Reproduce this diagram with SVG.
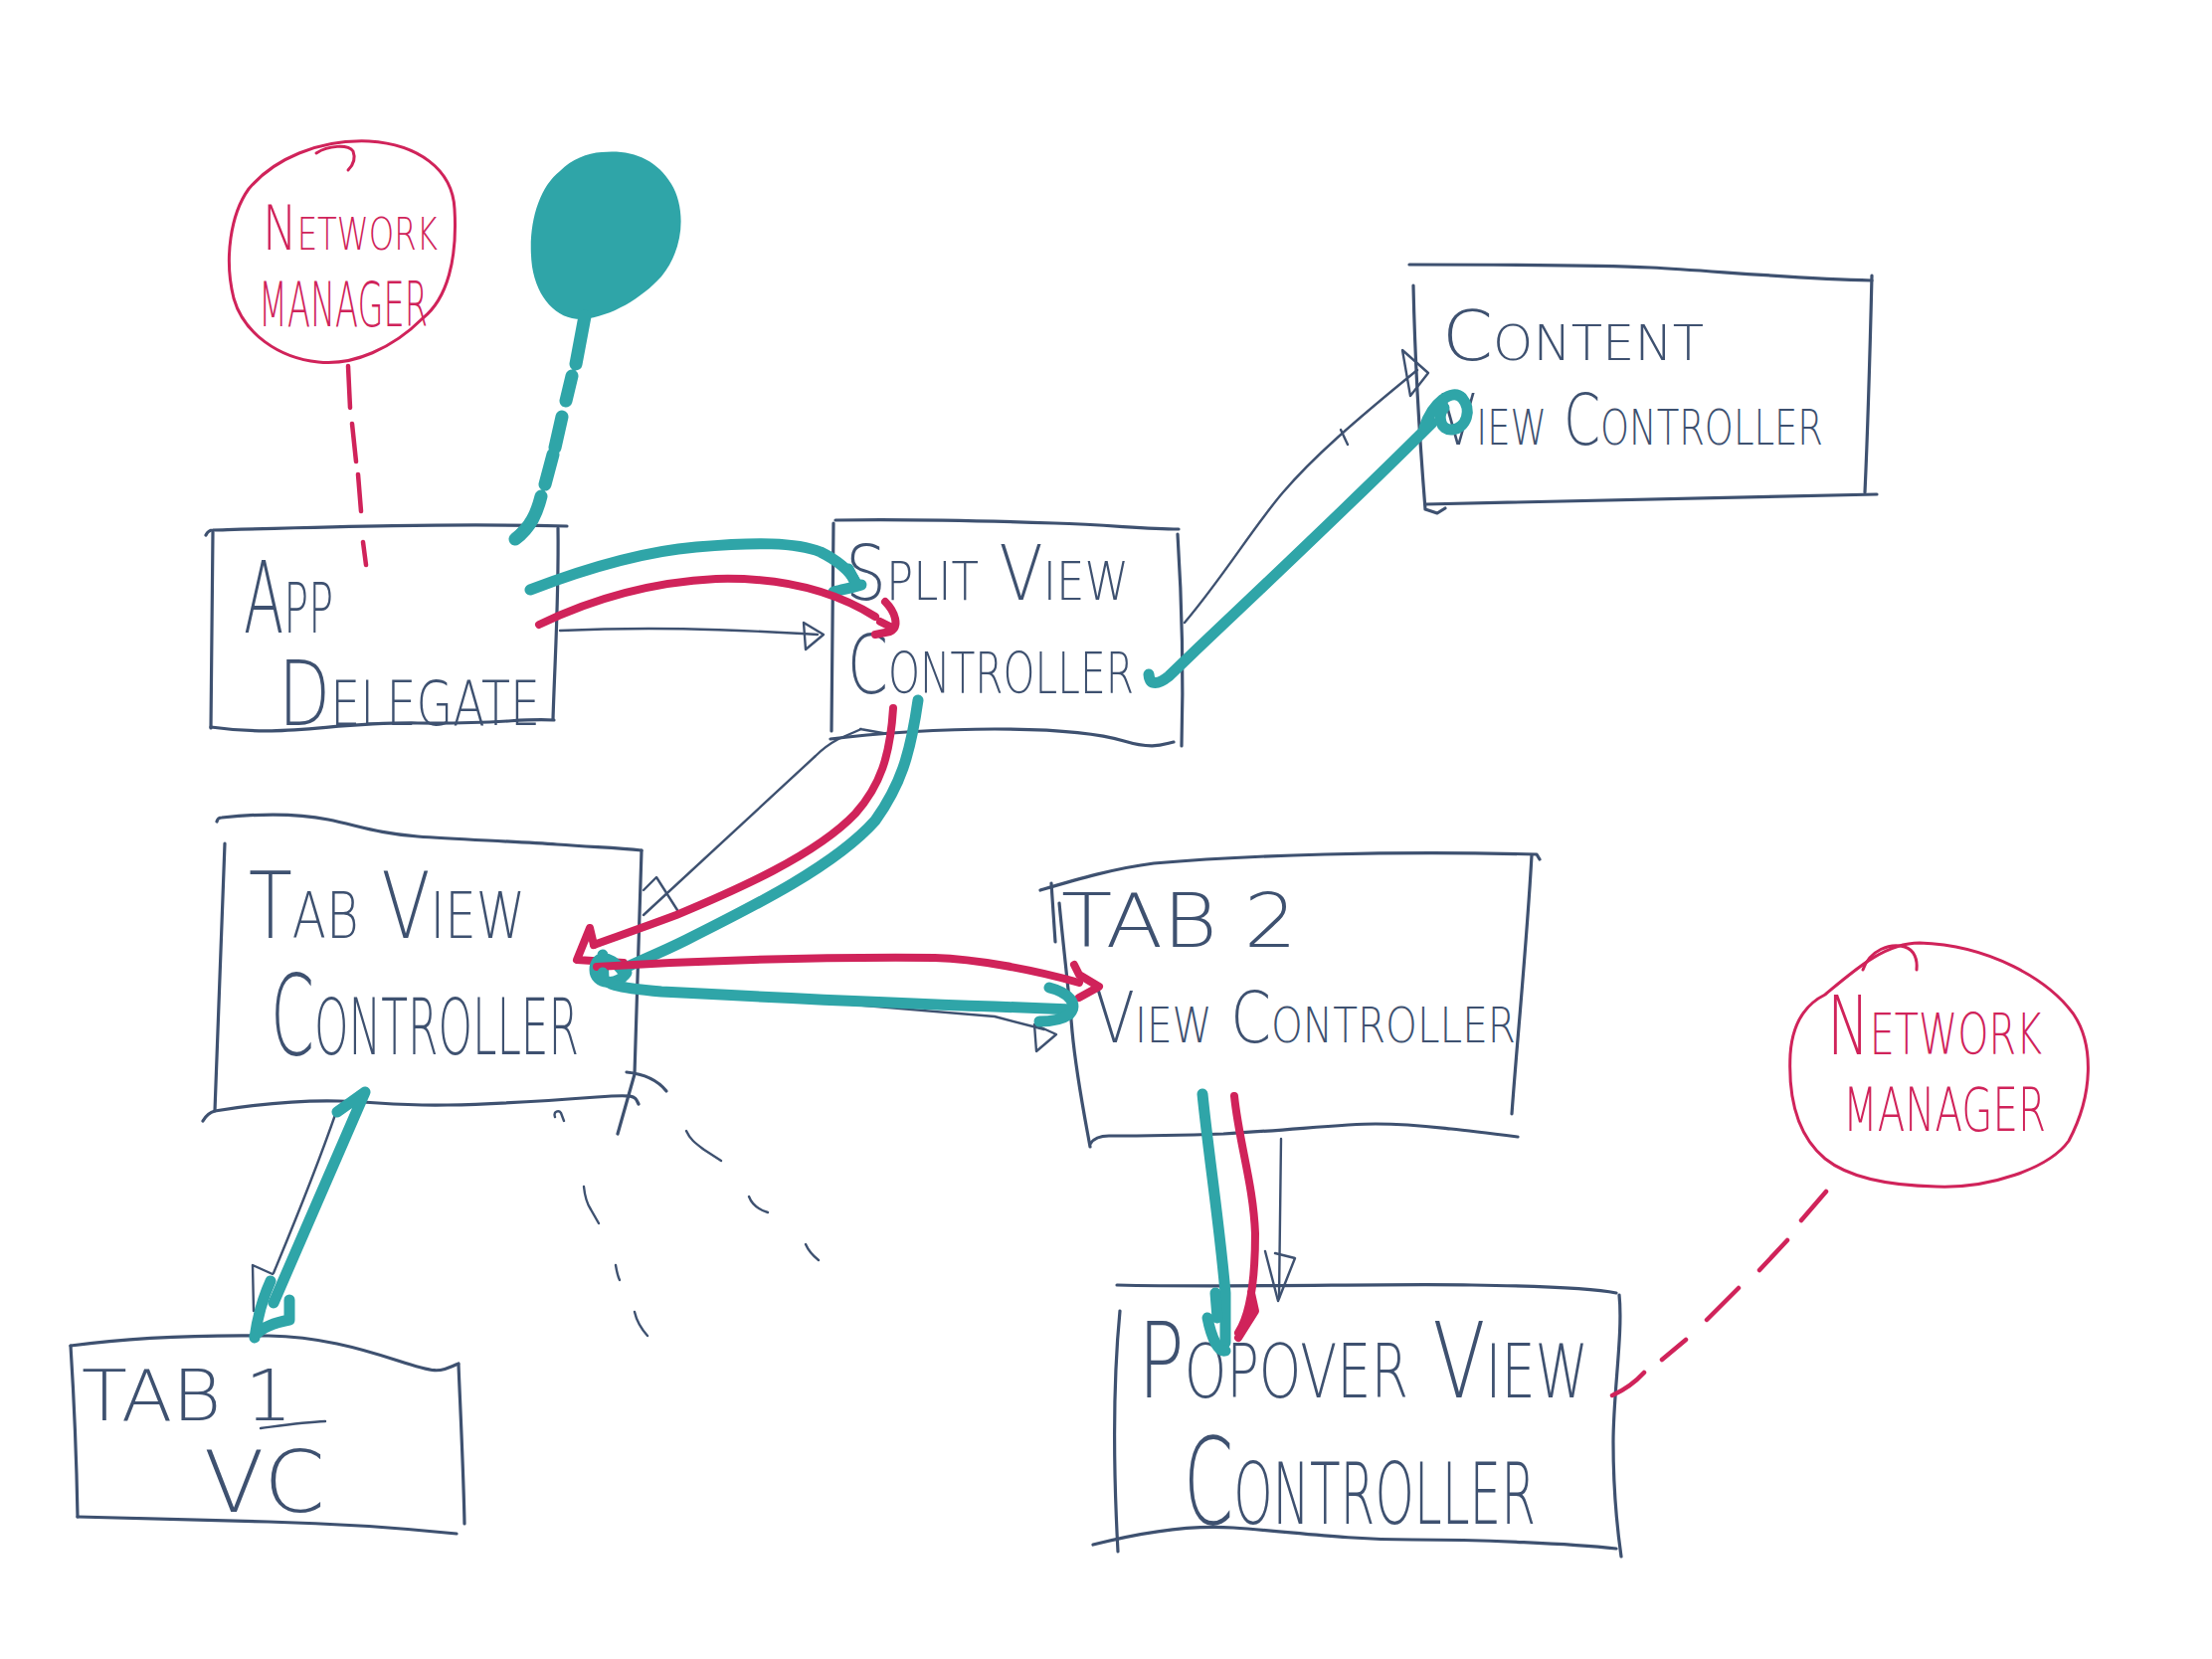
<svg xmlns="http://www.w3.org/2000/svg" width="2224" height="1668" viewBox="0 0 2224 1668">
<style>
.box{fill:none;stroke:#3e5170;stroke-width:3.2;stroke-linecap:round;stroke-linejoin:round}
.thin{fill:none;stroke:#3e5170;stroke-width:2.4;stroke-linecap:round;stroke-linejoin:round}
.teal{fill:none;stroke:#2fa5a8;stroke-width:11;stroke-linecap:round;stroke-linejoin:round}
.red{fill:none;stroke:#d0235a;stroke-width:8;stroke-linecap:round;stroke-linejoin:round}
.rdash{fill:none;stroke:#d0235a;stroke-width:4.5;stroke-linecap:round}
.nmc{fill:none;stroke:#d0235a;stroke-width:3;stroke-linecap:round;stroke-linejoin:round}
.lbl{font-family:"DejaVu Sans","Liberation Sans",Arial,sans-serif;font-weight:200;fill:#3e5170;font-variant:small-caps}
.nmt{font-family:"DejaVu Sans","Liberation Sans",Arial,sans-serif;font-weight:200;fill:#d0235a;font-variant:small-caps}
</style>
<rect width="2224" height="1668" fill="#ffffff"/>

<g id="network-manager-left">
<path class="nmc" d="M371,142 C420,145 455,170 457,210 C460,260 450,300 425,320 C395,350 355,368 320,364 C280,360 245,335 235,300 C225,260 232,215 250,190 C275,160 320,140 371,142 Z"/>
<path class="nmc" d="M318,154 C330,146 350,145 355,152 C358,160 355,166 350,171"/>
<text class="nmt" x="264" y="251" font-size="63" textLength="176" lengthAdjust="spacingAndGlyphs">Network</text>
<text class="nmt" x="260" y="328" font-size="62" textLength="170" lengthAdjust="spacingAndGlyphs">MANAGER</text>
</g>

<g id="teal-blob">
<path fill="#2fa5a8" d="M605,153 C635,150 660,160 675,185 C690,210 688,250 665,278 C645,300 615,318 586,321 C560,322 540,300 535,268 C530,230 540,190 563,172 C575,160 590,154 605,153 Z"/>
</g>

<g id="app-delegate">
<path class="box" d="M207,538 C209,534 211,533 214,533 C320,530 450,526 570,529"/>
<path class="box" d="M214,535 L212,732"/>
<path class="box" d="M561,531 C562,600 558,660 556,723"/>
<path class="box" d="M212,731 C290,742 330,726 420,727 S520,722 557,724"/>
<text class="lbl" x="245" y="636" font-size="100" textLength="90" lengthAdjust="spacingAndGlyphs">App</text>
<text class="lbl" x="280" y="729" font-size="90" textLength="263" lengthAdjust="spacingAndGlyphs">Delegate</text>
</g>

<g id="split-view-controller">
<path class="box" d="M840,523 C900,522 1000,524 1060,526 S1150,532 1185,532"/>
<path class="box" d="M838,526 L836,735"/>
<path class="box" d="M1184,537 C1188,600 1190,680 1188,750"/>
<path class="box" d="M835,743 C880,737 950,733 1000,733 S1100,736 1130,745 S1170,748 1180,746"/>
<text class="lbl" x="850" y="603" font-size="76" textLength="285" lengthAdjust="spacingAndGlyphs">Split View</text>
<text class="lbl" x="852" y="697" font-size="82" textLength="288" lengthAdjust="spacingAndGlyphs">Controller</text>
</g>

<g id="content-view-controller">
<path class="box" d="M1417,266 C1520,266 1600,266 1660,269 S1800,280 1882,282"/>
<path class="box" d="M1421,287 C1423,380 1428,450 1433,512 L1445,516 L1453,511"/>
<path class="box" d="M1882,277 C1880,360 1878,430 1875,495"/>
<path class="box" d="M1433,507 L1887,497"/>
<text class="lbl" x="1450" y="362" font-size="70" textLength="263" lengthAdjust="spacingAndGlyphs">Content</text>
<text class="lbl" x="1448" y="447" font-size="72" textLength="385" lengthAdjust="spacingAndGlyphs">View Controller</text>
</g>

<g id="tab-view-controller">
<path class="box" d="M218,826 C219,822 221,822 223,822 C260,818 300,818 330,824 S380,838 420,841 S520,846 560,849 S620,852 645,855"/>
<path class="box" d="M226,848 L216,1117"/>
<path class="box" d="M645,855 L638,1080 L621,1140"/>
<path class="box" d="M204,1127 C208,1120 212,1118 216,1117 C260,1110 300,1106 340,1107 S400,1112 450,1111 S560,1106 600,1103 S638,1102 642,1110"/>
<path class="box" d="M630,1078 C650,1080 662,1087 670,1097"/>
<text class="lbl" x="250" y="943" font-size="92" textLength="278" lengthAdjust="spacingAndGlyphs">Tab View</text>
<text class="lbl" x="272" y="1060" font-size="112" textLength="310" lengthAdjust="spacingAndGlyphs">Controller</text>
</g>

<g id="tab2-view-controller">
<path class="box" d="M1046,895 C1080,885 1120,873 1160,868 C1250,860 1400,855 1545,859 L1548,864"/>
<path class="box" d="M1057,888 L1061,947"/>
<path class="box" d="M1065,908 C1070,960 1075,1000 1078,1037 C1082,1080 1090,1120 1096,1153"/>
<path class="box" d="M1540,860 C1535,950 1525,1050 1520,1120"/>
<path class="box" d="M1096,1150 C1100,1144 1108,1142 1115,1142 C1160,1142 1200,1141 1230,1140 C1300,1136 1350,1130 1383,1130 S1440,1133 1459,1135 S1510,1141 1526,1143"/>
<text class="lbl" x="1067" y="952" font-size="74" textLength="237" lengthAdjust="spacingAndGlyphs">TAB 2</text>
<text class="lbl" x="1101" y="1048" font-size="72" textLength="423" lengthAdjust="spacingAndGlyphs">View Controller</text>
</g>

<g id="tab1-vc">
<path class="box" d="M71,1353 C130,1345 200,1342 270,1343 C320,1344 360,1355 400,1368 S440,1380 461,1371"/>
<path class="box" d="M71,1353 C74,1400 77,1470 78,1525"/>
<path class="box" d="M461,1372 C463,1420 466,1480 467,1532"/>
<path class="box" d="M78,1525 C150,1527 210,1529 270,1530 C350,1532 410,1537 459,1542"/>
<text class="lbl" x="82" y="1428" font-size="72" textLength="212" lengthAdjust="spacingAndGlyphs">TAB 1</text>
<path class="thin" d="M262,1436 C285,1433 305,1430 327,1429"/>
<text class="lbl" x="205" y="1520" font-size="85" textLength="122" lengthAdjust="spacingAndGlyphs">VC</text>
</g>

<g id="popover-view-controller">
<path class="box" d="M1123,1292 C1250,1295 1400,1290 1480,1292 C1550,1293 1600,1295 1625,1300"/>
<path class="box" d="M1126,1318 C1120,1380 1118,1450 1124,1560"/>
<path class="box" d="M1628,1302 C1632,1340 1622,1400 1622,1450 S1625,1530 1630,1565"/>
<path class="box" d="M1099,1553 C1150,1540 1200,1533 1240,1536 C1300,1540 1350,1548 1420,1548 S1580,1552 1625,1557"/>
<text class="lbl" x="1144" y="1405" font-size="106" textLength="453" lengthAdjust="spacingAndGlyphs">Popover View</text>
<text class="lbl" x="1190" y="1532" font-size="122" textLength="354" lengthAdjust="spacingAndGlyphs">Controller</text>
</g>

<g id="network-manager-right">
<path class="nmc" d="M1930,948 C2000,950 2060,985 2085,1020 C2105,1050 2105,1100 2080,1147 C2060,1175 2000,1195 1947,1193 C1900,1192 1860,1185 1835,1165 C1805,1140 1798,1100 1800,1060 C1802,1030 1815,1010 1835,1000 C1865,975 1895,948 1930,948 Z"/>
<path class="nmc" d="M1873,975 C1880,955 1900,948 1915,952 C1925,955 1928,965 1927,975"/>
<text class="nmt" x="1837" y="1060" font-size="82" textLength="216" lengthAdjust="spacingAndGlyphs">Network</text>
<text class="nmt" x="1853" y="1137" font-size="60" textLength="204" lengthAdjust="spacingAndGlyphs">MANAGER</text>
</g>

<g id="connectors">
<path class="rdash" d="M350,368 L352,410 M354,426 L358,464 M360,477 L363,514 M365,545 L368,568"/>
<path class="rdash" d="M1836,1198 L1811,1227 M1797,1247 L1769,1277 M1748,1295 L1716,1327 M1695,1347 L1671,1367 M1653,1380 C1642,1392 1632,1398 1621,1403"/>
<path fill="none" stroke="#2fa5a8" stroke-width="13" stroke-linecap="round" d="M588,318 L579,366 M575,378 L569,403 M565,419 L558,450 M556,457 L548,487 M544,499 C540,515 534,530 518,542"/>
<path class="thin" d="M558,1123 C556,1117 562,1116 564,1119 L567,1127 M690,1137 C694,1146 700,1150 708,1156 L725,1167 M753,1203 C756,1211 762,1216 772,1219 M810,1251 C813,1258 818,1263 823,1267 M587,1193 C588,1203 590,1210 594,1216 L602,1230 M619,1272 C620,1278 621,1283 623,1287 M638,1319 C640,1328 643,1334 651,1343"/>

<path class="thin" d="M563,634 C650,630 720,632 822,638"/>
<path class="thin" d="M808,626 L828,638 L810,653 Z"/>
<path class="teal" d="M533,593 C580,575 640,555 700,550 C760,545 800,545 825,555 C845,565 855,575 860,585"/>
<path class="teal" d="M838,595 C850,592 860,590 866,588 M853,572 L860,586"/>
<path class="red" d="M542,628 C600,600 660,585 720,582 C790,580 840,595 880,620"/>
<path class="red" d="M890,605 C900,615 905,630 895,635 L880,638 M885,625 L895,630"/>

<path class="thin" d="M1191,626 C1230,580 1260,530 1290,495 C1320,460 1360,425 1425,372"/>
<path class="thin" d="M1410,352 L1418,398 L1436,375 Z M1348,432 L1355,447"/>
<path class="teal" d="M1155,678 C1156,690 1165,688 1175,680 L1200,656 C1280,580 1360,505 1440,425"/>
<path class="teal" d="M1432,430 C1440,405 1460,390 1470,400 C1480,412 1475,430 1460,432 C1448,433 1445,418 1452,410"/>

<path class="thin" d="M893,738 L865,733 M866,733 L843,743 C830,750 825,755 820,760 L647,920"/>
<path class="thin" d="M647,895 L660,882 L681,915"/>
<path class="red" d="M898,712 C895,760 885,790 860,818 C820,860 740,895 680,920 C640,935 610,945 597,950"/>
<path class="red" d="M597,950 L593,933 L580,965 L627,968"/>
<path class="teal" d="M923,704 C915,760 905,790 880,825 C840,870 760,910 690,945 C660,960 640,967 625,975"/>
<path class="teal" d="M625,975 C610,958 598,962 598,975 C598,990 620,992 630,978 M606,960 L607,985"/>

<path class="thin" d="M640,992 C760,1002 880,1012 1000,1022 L1050,1035"/>
<path class="thin" d="M1040,1030 L1042,1057 L1062,1040 Z"/>
<path class="red" d="M600,972 C700,966 820,962 940,963 C980,964 1040,975 1085,988"/>
<path class="red" d="M1080,970 L1085,980 L1105,992 L1085,1003"/>
<path class="teal" d="M606,978 C605,990 620,993 665,997 C760,1002 880,1008 1000,1012 L1078,1015"/>
<path class="teal" d="M1055,993 C1075,998 1085,1010 1075,1020 C1065,1027 1050,1027 1045,1027"/>

<path class="thin" d="M338,1118 C320,1170 300,1220 275,1280"/>
<path class="thin" d="M274,1281 L254,1272 L255,1318"/>
<path class="teal" d="M339,1118 L367,1098 L275,1310"/>
<path class="teal" d="M272,1288 C262,1310 258,1330 256,1345 M291,1307 L291,1327 C275,1330 262,1336 256,1343"/>

<path class="thin" d="M1288,1145 L1286,1305"/>
<path class="thin" d="M1272,1258 L1285,1308 L1302,1265 L1282,1260"/>
<path class="teal" d="M1209,1100 C1215,1160 1226,1230 1232,1300 L1232,1350"/>
<path class="teal" d="M1222,1300 L1224,1325 M1214,1325 C1218,1345 1225,1360 1232,1358"/>
<path class="red" d="M1241,1102 C1246,1150 1260,1190 1262,1240 C1262,1280 1258,1320 1245,1340"/>
<path class="red" d="M1258,1300 L1262,1318 L1245,1345"/>
</g>
</svg>
